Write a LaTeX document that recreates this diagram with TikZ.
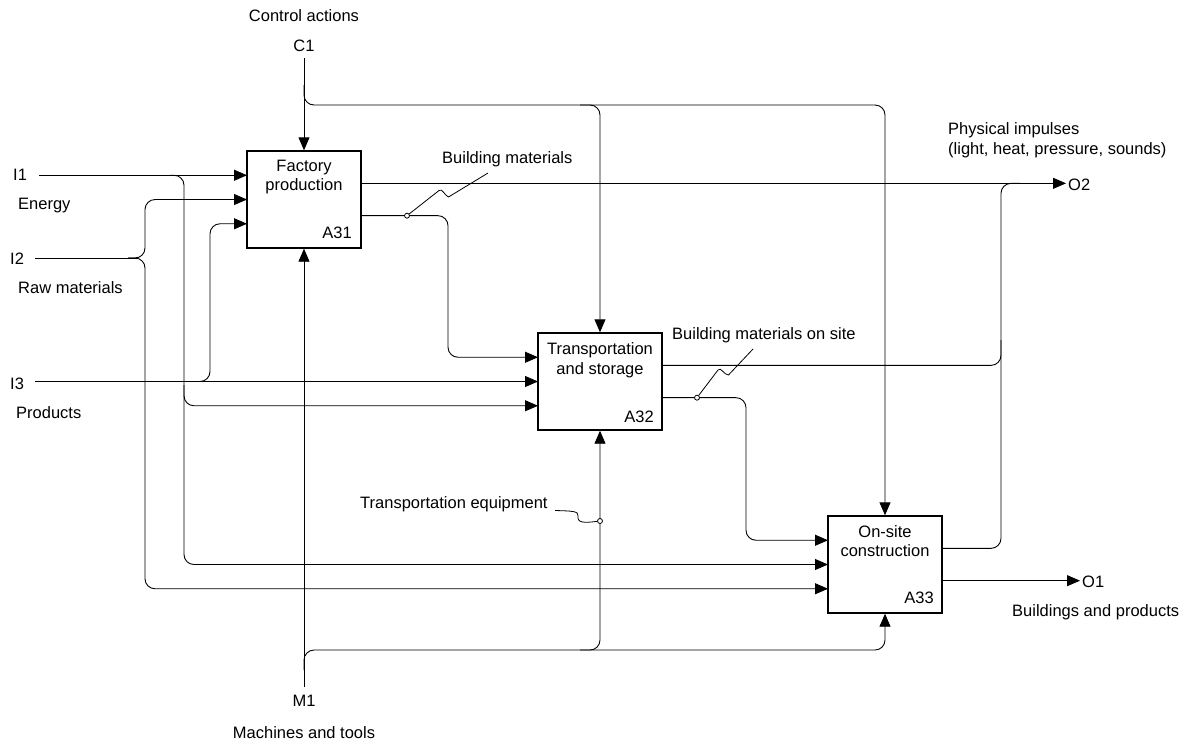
\documentclass[tikz,border=0pt]{standalone}
\usepackage{fontspec}
\setmainfont{Liberation Sans}
\usetikzlibrary{arrows.meta}
\begin{document}
\begin{tikzpicture}[x=1pt,y=-1pt,
  txt/.style={font=\fontsize{16.5}{19}\selectfont, inner sep=0pt, anchor=base},
  ltxt/.style={txt, anchor=base west},
  rtxt/.style={txt, anchor=base east},
  box/.style={draw, line width=1.4pt, minimum width=114pt, minimum height=97pt, inner sep=0pt},
  wire/.style={line width=0.9pt, rounded corners=10pt},
  arr/.style={wire, -{Triangle[length=13pt,width=11pt]}},
  tag/.style={draw, line width=0.8pt, fill=white, circle, inner sep=0pt, minimum size=5pt},
  squig/.style={line width=0.8pt},
]
\useasboundingbox[fill=white] (0,0) rectangle (1190,740);

% activity boxes
\node[box] (A31) at (304,199.5) {};
\node[box, minimum width=124pt] (A32) at (600,381.5) {};
\node[box] (A33) at (885,564.5) {};

\node[txt] (A31a) at (304,171) {Factory};
\node[txt] (A31b) at (304,190) {production};
\node[rtxt] (A31n) at (352,238) {A31};
\node[txt] (A32a) at (600,354) {Transportation};
\node[txt] (A32b) at (600,374) {and storage};
\node[rtxt] (A32n) at (654,422) {A32};
\node[txt] (A33a) at (885,537) {On-site};
\node[txt] (A33b) at (885,556) {construction};
\node[rtxt] (A33n) at (934,603) {A33};

% ports on the box sides
\coordinate (A31i1) at (247,175.25);
\coordinate (A31i2) at (247,199.5);
\coordinate (A31i3) at (247,223.75);
\coordinate (A32i1) at (538,357.25);
\coordinate (A32i2) at (538,381.5);
\coordinate (A32i3) at (538,405.75);
\coordinate (A33i1) at (828,540.25);
\coordinate (A33i2) at (828,564.5);
\coordinate (A33i3) at (828,588.75);
\coordinate (A31o1) at (361,183.33);
\coordinate (A31o2) at (361,215.67);
\coordinate (A32o1) at (662,365.33);
\coordinate (A32o2) at (662,397.67);
\coordinate (A33o1) at (942,548.33);
\coordinate (A33o2) at (942,580.67);

% boundary labels
\node[txt] (C1t) at (304,21) {Control actions};
\node[txt] (C1) at (304,51) {C1};
\coordinate (C1e) at (304,58);
\node[txt] (M1) at (304,706) {M1};
\node[txt] (M1t) at (304,738) {Machines and tools};
\coordinate (M1e) at (304,687);
\node[ltxt] (I1) at (13,180) {I1};
\node[ltxt] (I1t) at (18,209) {Energy};
\coordinate (I1e) at (39,175.25);
\node[ltxt] (I2) at (10,264) {I2};
\node[ltxt] (I2t) at (18,293) {Raw materials};
\coordinate (I2e) at (35,258);
\node[ltxt] (I3) at (10,389) {I3};
\node[ltxt] (I3t) at (16,418) {Products};
\coordinate (I3e) at (35,381.5);
\coordinate (O2e) at (1066,183.33);
\node[ltxt] (O2) at (1068,190) {O2};
\node[ltxt] (O2t1) at (948,134) {Physical impulses};
\node[ltxt] (O2t2) at (948,154) {(light, heat, pressure, sounds)};
\coordinate (O1e) at (1080,580.67);
\node[ltxt] (O1) at (1082,587) {O1};
\node[ltxt] (O1t) at (1012,616) {Buildings and products};

% inputs
\draw[arr] (I1e) -- (A31i1);
\draw[arr] (170,175.25) -- (184,175.25) -- (184,564.5) -- (A33i2);
\draw[arr] (184,385) -- (184,405.75) -- (A32i3);
\draw[wire] (I2e) -- (137,258);
\draw[arr] (128,258) -- (145,258) -- (145,199.5) -- (A31i2);
\draw[arr] (128,258) -- (145,258) -- (145,588.75) -- (A33i3);
\draw[arr] (I3e) -- (A32i2);
\draw[arr] (190,381.5) -- (210,381.5) -- (210,223.75) -- (A31i3);

% controls
\draw[arr] (C1e) -- (A31.north);
\draw[arr] (304,85) -- (304,105) -- (600,105) -- (A32.north);
\draw[arr] (580,105) -- (885,105) -- (A33.north);

% mechanisms
\draw[arr] (M1e) -- (A31.south);
\draw[arr] (304,670) -- (304,650) -- (600,650) -- (A32.south);
\draw[arr] (580,650) -- (885,650) -- (A33.south);

% outputs
\draw[arr] (A31o1) -- (O2e);
\draw[arr] (A31o2) -- (448,215.67) -- (448,357.25) -- (A32i1);
\draw[wire] (A32o1) -- (1001,365.33) -- (1001,183.33) -- (1020,183.33);
\draw[wire] (A33o1) -- (1001,548.33) -- (1001,340);
\draw[arr] (A32o2) -- (746,397.67) -- (746,540.25) -- (A33i1);
\draw[arr] (A33o2) -- (O1e);

% arrow labels with squiggles
\node[ltxt] (L1) at (442,163) {Building materials};
\node[tag] (D1) at (407,215.67) {};
\draw[squig] (D1) -- (439,190.5) .. controls (442,187.5) and (445,196) .. (448.5,197) -- (488,173);

\node[ltxt] (L2) at (672,339) {Building materials on site};
\node[tag] (D2) at (697,397.67) {};
\draw[squig] (D2) -- (718,370) .. controls (721,366.5) and (724,375) .. (728.5,375) -- (753,349);

\node[ltxt] (L3) at (360,508) {Transportation equipment};
\node[tag] (D3) at (600,521) {};
\draw[squig] (555,510.5) .. controls (572,511) and (579,511) .. (578,516) .. controls (577,523) and (584,523) .. (D3);
\end{tikzpicture}
\end{document}
